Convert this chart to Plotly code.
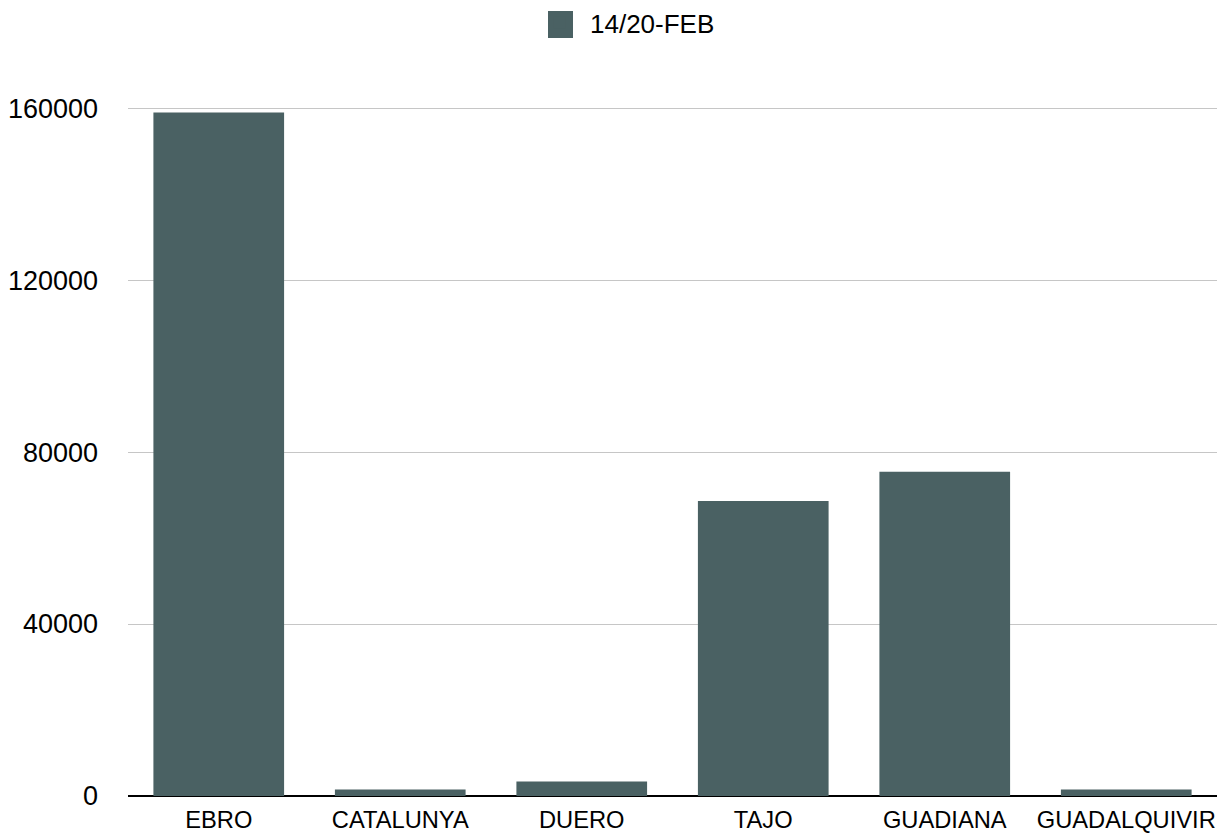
import plotly.graph_objects as go

categories = ["EBRO", "CATALUNYA", "DUERO", "TAJO", "GUADIANA", "GUADALQUIVIR"]
values = [159000, 1500, 3400, 68600, 75400, 1500]
series_name = "14/20-FEB"
y_ticks = [0, 40000, 80000, 120000, 160000]

bar_color = "#4A6163"
font_family = "Liberation Sans, Arial, Helvetica, sans-serif"

# the page body adds an 8px offset, so the figure is 8px smaller than the window
W, H = 1219, 828
L, R, T, B = 120, 10, 98, 40
plot_w = W - L - R
plot_h = H - T - B

fig = go.Figure()
fig.add_trace(go.Bar(
    x=categories, y=values, name=series_name,
    marker=dict(color=bar_color, line=dict(width=0)),
    showlegend=True,
))

# larger legend swatch (page px 548-573 x, 11-38 y)
def px_to_paper_x(px):
    return (px - 8 - L) / plot_w

def px_to_paper_y(py):
    return (H - B - (py - 8)) / plot_h

fig.add_shape(type="rect", xref="paper", yref="paper",
              x0=px_to_paper_x(548), x1=px_to_paper_x(573),
              y0=px_to_paper_y(38), y1=px_to_paper_y(11),
              fillcolor=bar_color, line=dict(width=0), layer="above")

fig.update_layout(
    width=W, height=H,
    margin=dict(l=L, r=R, t=T, b=B, autoexpand=False),
    paper_bgcolor="white", plot_bgcolor="white",
    bargap=0.28,
    font=dict(family=font_family, size=24, color="#000000"),
    showlegend=True,
    legend=dict(orientation="h", x=(529 - 8) / W, xanchor="left", xref="container",
                y=1 + (T + 9) / plot_h, yanchor="top", yref="paper",
                font=dict(size=26), itemwidth=51, bgcolor="rgba(0,0,0,0)"),
    xaxis=dict(showgrid=False, showline=False, ticks="", tickfont=dict(size=23.7),
               ticklabelstandoff=7, automargin=False),
    yaxis=dict(range=[0, 160500], tickvals=y_ticks, ticktext=[str(v) for v in y_ticks],
               showgrid=True, gridcolor="#c6c6c6", gridwidth=1,
               zeroline=True, zerolinecolor="#000000", zerolinewidth=2,
               showline=False, ticks="", tickfont=dict(size=27),
               ticklabelstandoff=29, automargin=False),
)

fig.write_html("out.html")
